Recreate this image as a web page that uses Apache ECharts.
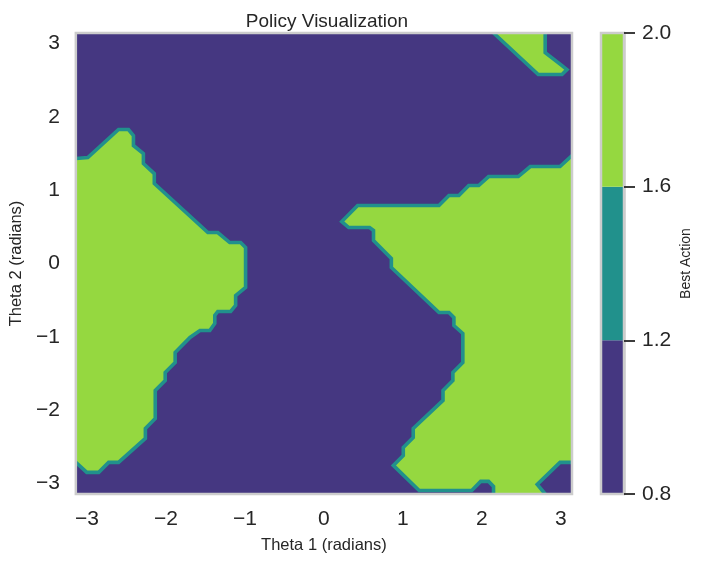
<!DOCTYPE html>
<html><head><meta charset="utf-8">
<script src="https://cdn.jsdelivr.net/npm/echarts@6/dist/echarts.min.js"></script>
<style>html,body{margin:0;padding:0;background:#fff}#c{width:704px;height:562px}</style>
</head><body><div id="c"></div>
<script>
const PI = Math.PI;
const xTicks = [-3, -2, -1, 0, 1, 2, 3];
const yTicks = [-3, -2, -1, 0, 1, 2, 3];
const levels = [0.8, 1.2, 1.6, 2.0];
const levelColors = ['#453781', '#21918c', '#95d840'];

// Boundaries (theta1, theta2) of the areas where best action = 2
const leftRegion = [[-PI,1.431],[-2.990,1.444],[-2.601,1.826],[-2.475,1.826],[-2.412,1.744],[-2.412,1.608],[-2.286,1.499],[-2.286,1.362],[-2.148,1.226],[-2.148,1.090],[-1.470,0.422],[-1.344,0.422],[-1.193,0.286],[-1.055,0.286],[-0.992,0.218],[-0.992,-0.327],[-1.118,-0.436],[-1.118,-0.572],[-1.181,-0.654],[-1.344,-0.654],[-1.382,-0.708],[-1.382,-0.817],[-1.445,-0.913],[-1.570,-0.913],[-1.696,-1.008],[-1.884,-1.213],[-1.884,-1.349],[-2.010,-1.485],[-2.010,-1.594],[-2.136,-1.730],[-2.136,-2.112],[-2.261,-2.248],[-2.261,-2.384],[-2.601,-2.711],[-2.726,-2.711],[-2.852,-2.847],[-3.003,-2.847],[-PI,-2.711]];
const rightMain = [[PI,1.471],[2.990,1.322],[2.613,1.322],[2.462,1.185],[2.085,1.185],[1.960,1.063],[1.834,1.063],[1.709,0.926],[1.583,0.926],[1.457,0.790],[0.427,0.790],[0.226,0.572],[0.314,0.490],[0.578,0.490],[0.628,0.450],[0.628,0.313],[0.854,0.068],[0.854,-0.054],[1.457,-0.668],[1.583,-0.668],[1.646,-0.736],[1.646,-0.845],[1.759,-0.954],[1.759,-1.349],[1.633,-1.485],[1.633,-1.594],[1.508,-1.730],[1.508,-1.866],[1.131,-2.248],[1.131,-2.371],[1.005,-2.507],[1.005,-2.616],[0.879,-2.752],[1.206,-3.093],[1.872,-3.093],[1.985,-2.970],[2.085,-2.970],[2.148,-3.038],[2.148,-PI]];
const rightCorner = [[2.802,-PI],[2.701,-3.011],[2.990,-2.711],[PI,-2.711]];
const topRight = [[2.148,PI],[2.714,2.575],[3.015,2.575],[3.078,2.643],[3.015,2.698],[2.802,2.875],[2.802,PI]];

const regions = [
  { fill: leftRegion, lines: [leftRegion] },
  { fill: rightMain.concat(rightCorner), lines: [rightMain, rightCorner] },
  { fill: topRight, lines: [topRight] }
];

const txt = '#262626';
const font = 'Liberation Sans, Arial, sans-serif';
const fmtMinus = v => (v < 0 ? '\u2212' : '') + Math.abs(v);

const chart = echarts.init(document.getElementById('c'), null, { renderer: 'canvas' });
chart.setOption({
  backgroundColor: '#ffffff',
  animation: false,
  title: {
    text: 'Policy Visualization', left: 322, top: 7, textAlign: 'center',
    textStyle: { fontSize: 19, fontWeight: 'normal', color: txt, fontFamily: font }
  },
  grid: [
    { left: 72, top: 33, width: 500, height: 461, show: true, backgroundColor: levelColors[0], borderWidth: 0 },
    { left: 601, top: 33, width: 23, height: 461, show: false }
  ],
  xAxis: [
    { gridIndex: 0, type: 'value', min: -PI, max: PI,
      name: 'Theta 1 (radians)', nameLocation: 'middle', nameGap: 43,
      nameTextStyle: { fontSize: 16.5, color: txt, fontFamily: font },
      axisLine: { show: false }, axisTick: { show: false }, splitLine: { show: false },
      axisLabel: { customValues: xTicks, formatter: fmtMinus, fontSize: 21, color: txt, fontFamily: font, margin: 15 } },
    { gridIndex: 1, type: 'value', min: 0, max: 1, show: false }
  ],
  yAxis: [
    { gridIndex: 0, type: 'value', min: -PI, max: PI,
      name: 'Theta 2 (radians)', nameLocation: 'middle', nameGap: 47, nameRotate: 90,
      nameTextStyle: { fontSize: 16.5, color: txt, fontFamily: font },
      axisLine: { show: false }, axisTick: { show: false }, splitLine: { show: false },
      axisLabel: { customValues: yTicks, formatter: fmtMinus, fontSize: 21, color: txt, fontFamily: font, margin: 16 } },
    { gridIndex: 1, type: 'value', min: 0.8, max: 2.0, interval: 0.4, position: 'right', z: 10,
      name: 'Best Action', nameLocation: 'middle', nameGap: 55, nameRotate: 90,
      nameTextStyle: { fontSize: 14, color: txt, fontFamily: font },
      axisLine: { show: true, onZero: false, lineStyle: { color: '#cccccc', width: 2.5 } }, splitLine: { show: false },
      axisTick: { show: true, inside: false, length: 11, lineStyle: { color: txt, width: 1.8 } },
      axisLabel: { formatter: v => v.toFixed(1), fontSize: 21, color: txt, fontFamily: font, margin: 18 } }
  ],
  series: [
    { type: 'custom', xAxisIndex: 0, yAxisIndex: 0, clip: true, z: 2,
      data: regions.map(() => [0, 0]),
      renderItem: (params, api) => {
        const r = regions[params.dataIndex];
        const children = [{ type: 'polygon', shape: { points: r.fill.map(p => api.coord(p)) },
          style: { fill: levelColors[2], stroke: null } }];
        r.lines.forEach(l => children.push({ type: 'polyline', shape: { points: l.map(p => api.coord(p)) },
          style: { stroke: levelColors[1], lineWidth: 3.6, fill: null, lineJoin: 'miter' } }));
        return { type: 'group', children };
      } },
    { type: 'custom', xAxisIndex: 0, yAxisIndex: 0, z: 5, data: [[0, 0]],
      renderItem: (params) => {
        const cs = params.coordSys;
        return { type: 'rect', shape: { x: cs.x, y: cs.y, width: cs.width, height: cs.height },
          style: { fill: null, stroke: '#cccccc', lineWidth: 2.5 } };
      } },
    { type: 'custom', xAxisIndex: 1, yAxisIndex: 1, z: 2,
      data: levelColors.map((c, i) => [levels[i], levels[i + 1]]),
      encode: { y: [0, 1] },
      renderItem: (params, api) => {
        const cs = params.coordSys;
        const top = api.coord([0, api.value(1)])[1];
        const bot = api.coord([0, api.value(0)])[1];
        return { type: 'rect', shape: { x: cs.x, y: top, width: cs.width, height: bot - top },
          style: { fill: levelColors[params.dataIndex] } };
      } },
    { type: 'custom', xAxisIndex: 1, yAxisIndex: 1, z: 5, data: [[0, 1]],
      renderItem: (params) => {
        const cs = params.coordSys;
        return { type: 'rect', shape: { x: cs.x, y: cs.y, width: cs.width, height: cs.height },
          style: { fill: null, stroke: '#cccccc', lineWidth: 2.5 } };
      } }
  ]
});
</script>
</body></html>
